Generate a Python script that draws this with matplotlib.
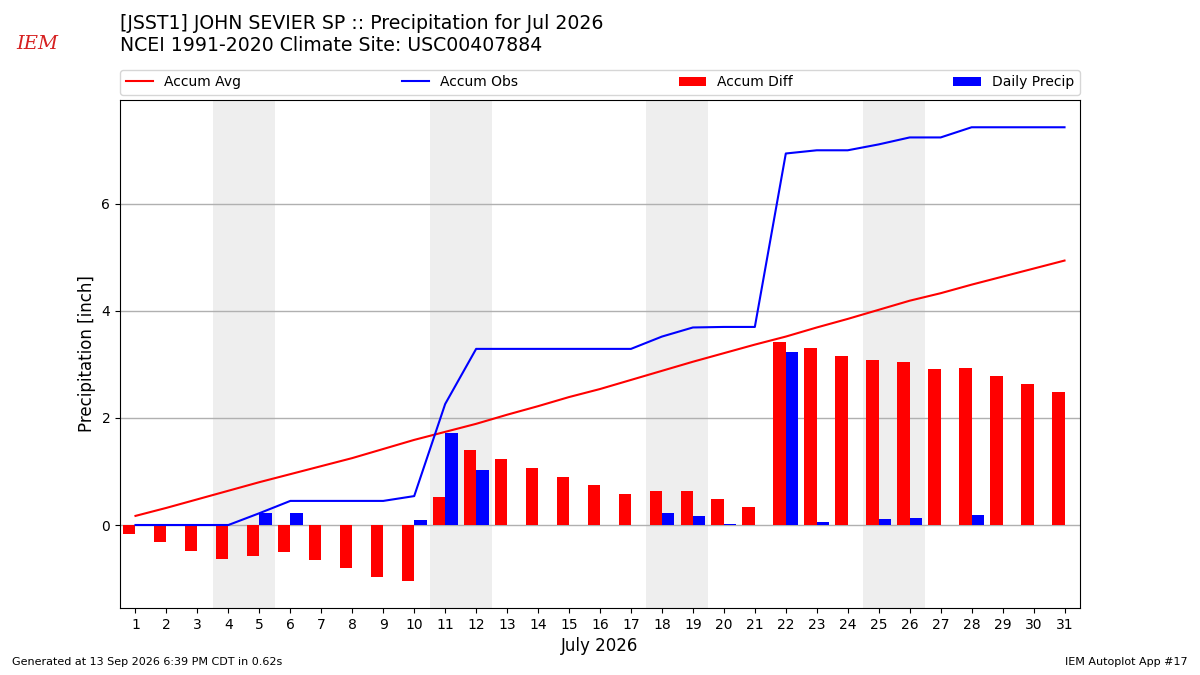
import numpy as np
import matplotlib
matplotlib.use("Agg")
import matplotlib.pyplot as plt

# 数据: 日降水(inch) 与 气候平均累计
days = list(range(1, 32))
daily_precip = [0.00, 0.00, 0.00, 0.00, 0.22, 0.23, 0.00, 0.00, 0.00, 0.09,
                1.72, 1.03, 0.00, 0.00, 0.00, 0.00, 0.00, 0.23, 0.17, 0.01,
                0.00, 3.24, 0.06, 0.00, 0.11, 0.13, 0.00, 0.19, 0.00, 0.00, 0.00]
accum_avg = [0.17, 0.32, 0.48, 0.64, 0.80, 0.95, 1.10, 1.25, 1.42, 1.59,
             1.74, 1.89, 2.06, 2.22, 2.39, 2.54, 2.71, 2.88, 3.05, 3.21,
             3.37, 3.52, 3.69, 3.85, 4.02, 4.19, 4.33, 4.49, 4.64, 4.79, 4.94]
weekends = [(4, 5), (11, 12), (18, 19), (25, 26)]

TITLE = "[JSST1] JOHN SEVIER SP :: Precipitation for Jul 2026\nNCEI 1991-2020 Climate Site: USC00407884"

x = np.array(days)
accum_obs = np.cumsum(daily_precip)
accum_diff = accum_obs - np.array(accum_avg)

fig = plt.figure(figsize=(12, 6.75), dpi=100)
ax = fig.add_axes([0.1, 0.0993, 0.8, 0.7526])

for a, b in weekends:
    ax.axvspan(a - 0.5, b + 0.5, color="#eeeeee", zorder=0, lw=0)

ax.plot(x, accum_avg, color="r", lw=1.5, label="Accum Avg", zorder=3)
ax.plot(x, accum_obs, color="b", lw=1.5, label="Accum Obs", zorder=3)
ax.bar(x - 0.4, accum_diff, width=0.4, align="edge", color="r", label="Accum Diff", zorder=2)
ax.bar(x, daily_precip, width=0.4, align="edge", color="b", label="Daily Precip", zorder=2)

ax.set_xlim(0.5, 31.5)
ax.set_ylim(-1.55, 7.94)
ax.set_xticks(days)
ax.set_yticks([0, 2, 4, 6])
ax.grid(axis="y", color="#b0b0b0", lw=1, zorder=1)
ax.set_axisbelow(True)
ax.set_xlabel("July 2026", fontsize=12)
ax.set_ylabel("Precipitation [inch]", fontsize=12)
ax.legend(loc="lower left", bbox_to_anchor=(0, 1.01, 1, 0.05), ncol=4,
          mode="expand", borderaxespad=0, fontsize=10)

fig.text(0.1, 0.979, TITLE, fontsize=13.6, va="top", ha="left")

# IEM logo (近似)
fig.text(0.031, 0.935, "IEM", color="#d62020", fontsize=14, family="serif",
         style="italic", ha="center", va="center")

fig.text(0.01, 0.015, "Generated at 13 Sep 2026 6:39 PM CDT in 0.62s", fontsize=8)
fig.text(0.99, 0.015, "IEM Autoplot App #17", fontsize=8, ha="right")

fig.savefig("out.png", dpi=100)
